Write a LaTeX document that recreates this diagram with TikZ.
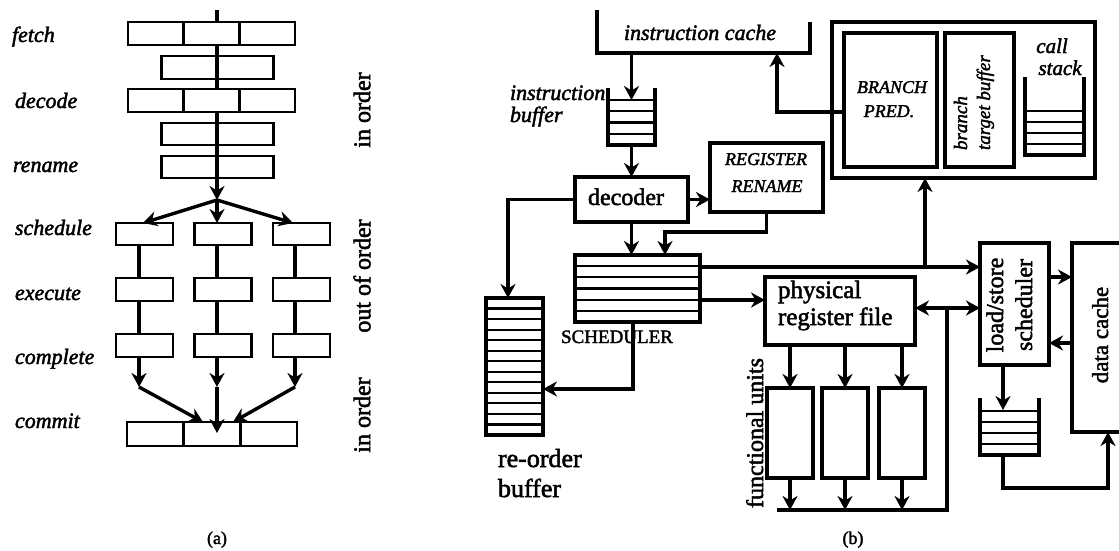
\documentclass[tikz,border=0pt]{standalone}
\usepackage{fontspec}
\setmainfont{Liberation Serif}[FakeBold=2]
\usetikzlibrary{arrows.meta,calc}
\tikzset{stk/.tip={Stealth[length=14pt,width=15pt,inset=4.5pt]}}
\begin{document}
\begin{tikzpicture}[x=1pt,y=-1pt,
  every node/.style={inner sep=0pt,outer sep=0pt},
  abox/.style={draw,line width=2.6pt,fill=white,rectangle},
  bbox/.style={draw,line width=3.6pt,rectangle},
  frm/.style={rectangle},
  bline/.style={line width=3.6pt},
  slot/.style={line width=2.2pt},
  conn/.style={line width=3.4pt},
  arr/.style={conn,-stk},
  darr/.style={conn,stk-stk},
  labA/.style={font=\fontsize{22}{26}\selectfont\itshape,anchor=base west},
  side/.style={font=\fontsize{24}{28}\selectfont,rotate=90},
  ]
\useasboundingbox (0,0) rectangle (1119,550);

% ================= panel (a) =================
\coordinate (v) at (217,10);
\node[abox,minimum width=112pt,minimum height=23pt] (q1) at (217.5,67.5) {};
\node[abox,minimum width=112pt,minimum height=22pt] (q2) at (217.5,134) {};
\node[abox,minimum width=112pt,minimum height=22pt] (ren) at (217.5,167) {};
\node[abox,minimum width=167pt,minimum height=23pt] (fetch) at (211.5,33.5) {};
\node[abox,minimum width=167pt,minimum height=23pt] (decode) at (211.5,100.5) {};
\node[abox,minimum width=170pt,minimum height=24pt] (commit) at (212,434) {};
\foreach \b in {fetch,decode,commit} {
  \draw[line width=2.4pt] ($(\b.north west)!1/3!(\b.north east)$) -- ($(\b.south west)!1/3!(\b.south east)$);
  \draw[line width=2.4pt] ($(\b.north west)!2/3!(\b.north east)$) -- ($(\b.south west)!2/3!(\b.south east)$);
}
\draw[conn] (v) -- (v |- fetch.north);
\draw[conn] (fetch.south -| v) -- (decode.north -| v);
\draw[conn] (decode.south -| v) -- (ren.south -| v);

\foreach \i/\cx in {1/144.5,2/223,3/301.5} {
  \node[abox,minimum width=57pt,minimum height=22pt] (s\i) at (\cx,234) {};
  \node[abox,minimum width=57pt,minimum height=23pt] (e\i) at (\cx,289.5) {};
  \node[abox,minimum width=57pt,minimum height=23pt] (c\i) at (\cx,345.5) {};
}
\coordinate (x1) at (139,387);
\coordinate (x2) at (217,387);
\coordinate (x3) at (295,387);
\foreach \i in {1,2,3} {
  \draw[conn] (s\i.south -| x\i) -- (e\i.north -| x\i);
  \draw[conn] (e\i.south -| x\i) -- (c\i.north -| x\i);
  \draw[arr] (c\i.south -| x\i) -- (x\i);
}
\draw[arr] (x1) -- ($(commit.north)+(-9,0)$);
\draw[arr] (x2) -- ($(x2 |- commit.north)+(0,11)$);
\draw[arr] (x3) -- ($(commit.north)+(21,0)$);

\coordinate (J) at (217,200);
\draw[arr] (ren.south -| v) -- (J);
\draw[arr] (J) -- ($(s1.north)+(-1.5,0)$);
\draw[arr] (J) -- (J |- s2.north);
\draw[arr] (J) -- ($(s3.north)+(-8.5,0)$);

\node[labA] (lf) at (12,42) {fetch};
\node[labA] (ld) at (15,108) {decode};
\node[labA] (lr) at (13,172) {rename};
\node[labA] (ls) at (15,235) {schedule};
\node[labA] (le) at (15,300) {execute};
\node[labA] (lc) at (15,364) {complete};
\node[labA] (lm) at (15,428) {commit};

\node[side] (io1) at (362,110) {in order};
\node[side] (oo) at (362,276) {out of order};
\node[side] (io2) at (362,415) {in order};
\node[font=\fontsize{18}{20}\selectfont,anchor=base] (capa) at (217,544) {(a)};

% ================= panel (b) =================
% instruction cache (open U)
\node[frm,minimum width=213pt,minimum height=43pt] (icache) at (703.5,31.5) {};
\draw[line width=4pt] (icache.north west) -- (icache.south west) -- (icache.south east) -- ($(icache.north east)+(0,12)$);
\node[font=\fontsize{22}{26}\selectfont\itshape,anchor=base] (ictext) at (700,40) {instruction cache};

% instruction buffer
\node[frm,minimum width=47pt,minimum height=57pt] (ibuf) at (631.5,116.5) {};
\draw[bline] (ibuf.north west) -- (ibuf.south west) -- (ibuf.south east) -- (ibuf.north east);
\foreach \k in {1,...,4}
  \draw[slot] ($(ibuf.south west)+(0,-11.25*\k)$) -- ($(ibuf.south east)+(0,-11.25*\k)$);
\node[font=\fontsize{22}{26}\selectfont\itshape,anchor=base west] (ibt1) at (510,100) {instruction};
\node[font=\fontsize{22}{26}\selectfont\itshape,anchor=base west] (ibt2) at (510,122) {buffer};

% decoder
\node[bbox,minimum width=113pt,minimum height=45pt] (dec) at (631.5,199.5) {};
\node[font=\fontsize{24}{28}\selectfont,anchor=base] (dect) at (626,205) {decoder};

% register rename
\node[bbox,minimum width=113pt,minimum height=69pt] (rr) at (766.5,177.5) {};
\node[font=\fontsize{18}{20}\selectfont\itshape,anchor=base] (rrt1) at (766,165) {REGISTER};
\node[font=\fontsize{18}{20}\selectfont\itshape,anchor=base] (rrt2) at (767,192) {RENAME};

% scheduler
\node[bbox,minimum width=125pt,minimum height=67pt] (sch) at (637.5,288.5) {};
\foreach \k in {1,...,5}
  \draw[slot] ($(sch.north west)!\k/6!(sch.south west)$) -- ($(sch.north east)!\k/6!(sch.south east)$);
\node[font=\fontsize{19}{22}\selectfont,anchor=base] (scht) at (617,343) {SCHEDULER};

% re-order buffer
\node[bbox,minimum width=57pt,minimum height=137pt] (rob) at (514.5,366.5) {};
\foreach \k in {1,...,12}
  \draw[slot] ($(rob.north west)!\k/13!(rob.south west)$) -- ($(rob.north east)!\k/13!(rob.south east)$);
\node[font=\fontsize{26}{30}\selectfont,anchor=base west] (robt1) at (498,467) {re-order};
\node[font=\fontsize{26}{30}\selectfont,anchor=base west] (robt2) at (498,497) {buffer};

% physical register file
\node[bbox,minimum width=150pt,minimum height=68pt] (prf) at (840,311) {};
\node[font=\fontsize{25}{29}\selectfont,anchor=base west] (prft1) at (778,298) {physical};
\node[font=\fontsize{25}{29}\selectfont,anchor=base west] (prft2) at (778,325) {register file};

% functional units
\foreach \i/\cx in {1/790,2/845,3/902}
  \node[bbox,minimum width=46pt,minimum height=90pt] (fu\i) at (\cx,433) {};
\node[font=\fontsize{24}{28}\selectfont,rotate=90,anchor=base] (fut) at (763,433) {functional units};

% load/store scheduler
\node[bbox,minimum width=69pt,minimum height=122pt] (lss) at (1014.5,304) {};
\node[font=\fontsize{24}{28}\selectfont,rotate=90,anchor=base] (lsst1) at (1003,305) {load/store};
\node[font=\fontsize{24}{28}\selectfont,rotate=90,anchor=base] (lsst2) at (1032,305) {scheduler};

% data cache (runs off the right edge)
\node[frm,minimum width=47pt,minimum height=189pt] (dc) at (1095.5,337.5) {};
\draw[bline] (dc.north east) -- (dc.north west) -- (dc.south west) -- (dc.south east);
\node[font=\fontsize{23}{27}\selectfont,rotate=90,anchor=base] (dct) at (1108,335) {data cache};

% load/store queue
\node[frm,minimum width=59pt,minimum height=57pt] (lsq) at (1009.5,426.5) {};
\draw[bline] (lsq.north west) -- (lsq.south west) -- (lsq.south east) -- (lsq.north east);
\foreach \k in {1,...,4}
  \draw[slot] ($(lsq.south west)+(0,-11*\k)$) -- ($(lsq.south east)+(0,-11*\k)$);

% branch unit
\node[bbox,minimum width=263pt,minimum height=156pt] (bru) at (963.5,100) {};
\node[bbox,minimum width=93pt,minimum height=134pt] (bp) at (890.5,100) {};
\node[font=\fontsize{18}{20}\selectfont\itshape,anchor=base] (bpt1) at (892,93) {BRANCH};
\node[font=\fontsize{18}{20}\selectfont\itshape,anchor=base] (bpt2) at (889,117) {PRED.};
\node[bbox,minimum width=69pt,minimum height=134pt] (btb) at (979.5,100) {};
\node[font=\fontsize{19}{22}\selectfont\itshape,rotate=90,anchor=base west] (btbt1) at (967,150) {branch};
\node[font=\fontsize{19}{22}\selectfont\itshape,rotate=90,anchor=base west] (btbt2) at (990,150) {target buffer};
\node[frm,minimum width=59pt,minimum height=78pt] (cs) at (1054.5,116) {};
\draw[bline] (cs.north west) -- (cs.south west) -- (cs.south east) -- (cs.north east);
\foreach \k in {1,...,4}
  \draw[slot] ($(cs.south west)+(0,-11*\k)$) -- ($(cs.south east)+(0,-11*\k)$);
\node[font=\fontsize{21}{25}\selectfont\itshape,anchor=base] (cst1) at (1052,53) {call};
\node[font=\fontsize{21}{25}\selectfont\itshape,anchor=base] (cst2) at (1060,75) {stack};

% ---- connectors (b) ----
\draw[arr] (icache.south -| ibuf) -- ($(ibuf.south)+(0,-45)$);
\draw[arr] (ibuf.south) -- (dec.north);
\draw[arr] (dec.east) -- (dec.east -| rr.west);
\draw[arr] (dec.west) -| ($(rob.north)+(-6.5,0)$);
\draw[arr] (dec.south) -- (dec.south |- sch.north);
\draw[arr] (rr.south) -- ++(0,20) -| ($(sch.north)+(27.5,0)$);
\coordinate (sA) at ($(sch.north east)+(0,12)$);
\draw[arr] (sA) -- (sA -| lss.west);
\coordinate (tap) at (925,267);
\draw[arr] (tap) -- (tap |- bru.south);
\coordinate (sB) at ($(sch.north east)+(0,45)$);
\draw[arr] (sB) -- (sB -| prf.west);
\draw[arr] ($(sch.south)+(-4.5,0)$) |- ($(rob.east)+(0,22.5)$);
\coordinate (pA) at ($(prf.east)+(0,-3)$);
\draw[darr] (pA) -- (pA -| lss.west);
\coordinate (busR) at (947,510);
\coordinate (busL) at (777,510);
\draw[conn] (pA -| busR) -- (busR) -- (busL);
\foreach \i in {1,2,3} {
  \draw[arr] (prf.south -| fu\i) -- (fu\i.north);
  \draw[arr] (fu\i.south) -- (fu\i.south |- busR);
}
\coordinate (lA) at ($(lss.north east)+(0,34)$);
\draw[arr] (lA) -- (lA -| dc.west);
\coordinate (lB) at ($(dc.north west)+(0,100)$);
\draw[arr] (lB) -- (lB -| lss.east);
\coordinate (lC) at ($(lss.south)+(-11.5,0)$);
\draw[arr] (lC) -- ($(lC |- lsq.north)+(0,12)$);
\draw[arr] ($(lsq.south)+(-6.5,0)$) -- ++(0,33) -| ($(dc.south west)+(36,0)$);
\draw[arr] ($(bp.west)+(0,12)$) -| ($(icache.south west)+(180,0)$);

\node[font=\fontsize{18}{20}\selectfont,anchor=base] (capb) at (853,544) {(b)};
\end{tikzpicture}
\end{document}
